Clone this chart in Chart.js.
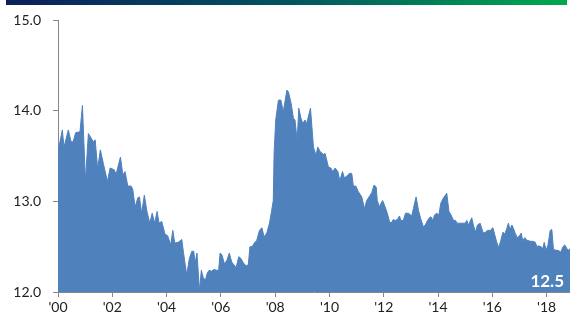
<!DOCTYPE html>
<html>
<head>
<meta charset="utf-8">
<script src="https://cdn.jsdelivr.net/npm/chart.js@4/dist/chart.umd.min.js"></script>
<style>
  body { margin: 0; background: #fff; }
  #wrap { width: 570px; height: 320px; position: relative; }
</style>
</head>
<body>
<div id="wrap"><canvas id="areaChart"></canvas></div>
<script>
// Dates as decimal years, values on the left axis
const dates = [
  2000.00, 2000.16, 2000.22, 2000.38, 2000.48, 2000.56, 2000.65, 2000.81, 2000.90, 2001.01,
  2001.12, 2001.24, 2001.30, 2001.37, 2001.46, 2001.56, 2001.67, 2001.82, 2001.92, 2002.07,
  2002.14, 2002.30, 2002.39, 2002.47, 2002.57, 2002.69, 2002.75, 2002.84, 2002.94, 2003.00,
  2003.08, 2003.18, 2003.27, 2003.38, 2003.47, 2003.56, 2003.65, 2003.72, 2003.82, 2003.94,
  2004.04, 2004.13, 2004.15, 2004.23, 2004.30, 2004.43, 2004.56, 2004.62, 2004.74, 2004.84,
  2004.93, 2005.00, 2005.05, 2005.12, 2005.21, 2005.28, 2005.35, 2005.43, 2005.50, 2005.57,
  2005.66, 2005.75, 2005.82, 2005.92, 2005.97, 2006.04, 2006.13, 2006.22, 2006.31, 2006.40,
  2006.48, 2006.56, 2006.66, 2006.74, 2006.83, 2006.93, 2007.01, 2007.07, 2007.15, 2007.23,
  2007.32, 2007.42, 2007.51, 2007.59, 2007.69, 2007.79, 2007.87, 2007.93, 2007.96, 2008.02,
  2008.12, 2008.21, 2008.30, 2008.43, 2008.49, 2008.59, 2008.67, 2008.73, 2008.81, 2008.87,
  2008.95, 2009.02, 2009.10, 2009.16, 2009.30, 2009.41, 2009.50, 2009.57, 2009.66, 2009.78,
  2009.84, 2009.96, 2010.05, 2010.12, 2010.21, 2010.31, 2010.38, 2010.48, 2010.55, 2010.64,
  2010.73, 2010.82, 2010.88, 2010.97, 2011.06, 2011.19, 2011.29, 2011.37, 2011.50, 2011.56,
  2011.64, 2011.72, 2011.76, 2011.84, 2011.90, 2011.96, 2012.05, 2012.13, 2012.21, 2012.27,
  2012.35, 2012.42, 2012.50, 2012.58, 2012.63, 2012.72, 2012.80, 2012.91, 2013.03, 2013.09,
  2013.19, 2013.28, 2013.36, 2013.46, 2013.53, 2013.61, 2013.68, 2013.74, 2013.81, 2013.87,
  2013.95, 2014.03, 2014.10, 2014.20, 2014.32, 2014.40, 2014.48, 2014.57, 2014.64, 2014.71,
  2014.81, 2014.91, 2015.00, 2015.06, 2015.12, 2015.18, 2015.24, 2015.30, 2015.38, 2015.45,
  2015.55, 2015.61, 2015.67, 2015.74, 2015.82, 2015.92, 2016.02, 2016.09, 2016.16, 2016.24,
  2016.31, 2016.39, 2016.46, 2016.53, 2016.59, 2016.65, 2016.72, 2016.78, 2016.84, 2016.92,
  2017.00, 2017.06, 2017.12, 2017.20, 2017.27, 2017.33, 2017.39, 2017.49, 2017.58, 2017.64,
  2017.71, 2017.79, 2017.86, 2017.91, 2017.98, 2018.05, 2018.13, 2018.19, 2018.25, 2018.35,
  2018.43, 2018.52, 2018.60, 2018.67, 2018.74, 2018.81, 2018.86
];
const values = [
  13.55, 13.79, 13.60, 13.79, 13.66, 13.66, 13.76, 13.77, 14.06, 13.23,
  13.75, 13.69, 13.66, 13.68, 13.36, 13.57, 13.42, 13.22, 13.37, 13.35,
  13.30, 13.49, 13.29, 13.33, 13.17, 13.17, 13.14, 12.94, 13.04, 13.05,
  12.87, 13.07, 12.90, 12.76, 12.87, 12.76, 12.89, 12.76, 12.78, 12.64,
  12.62, 12.54, 12.52, 12.68, 12.54, 12.55, 12.58, 12.44, 12.19, 12.37,
  12.45, 12.45, 12.32, 12.43, 12.01, 12.24, 12.16, 12.13, 12.21, 12.24,
  12.23, 12.25, 12.24, 12.24, 12.43, 12.41, 12.31, 12.35, 12.43, 12.33,
  12.30, 12.27, 12.39, 12.37, 12.32, 12.29, 12.30, 12.50, 12.50, 12.54,
  12.57, 12.68, 12.71, 12.61, 12.65, 12.76, 12.90, 13.01, 13.53, 13.90,
  14.12, 14.12, 13.99, 14.23, 14.21, 14.08, 13.92, 13.90, 13.67, 14.03,
  13.92, 13.86, 13.90, 13.86, 14.03, 13.60, 13.51, 13.60, 13.55, 13.52,
  13.53, 13.38, 13.37, 13.33, 13.37, 13.33, 13.23, 13.33, 13.26, 13.28,
  13.31, 13.31, 13.17, 13.17, 13.11, 13.05, 12.92, 13.01, 13.07, 13.10,
  13.18, 13.16, 13.01, 12.94, 12.98, 13.01, 12.94, 12.87, 12.78, 12.76,
  12.80, 12.79, 12.80, 12.84, 12.79, 12.79, 12.87, 12.87, 12.84, 12.92,
  13.05, 12.90, 12.81, 12.72, 12.74, 12.79, 12.82, 12.83, 12.79, 12.85,
  12.87, 12.85, 12.98, 13.04, 13.09, 12.89, 12.85, 12.79, 12.79, 12.76,
  12.76, 12.76, 12.76, 12.79, 12.74, 12.78, 12.82, 12.74, 12.66, 12.74,
  12.76, 12.70, 12.65, 12.66, 12.68, 12.68, 12.71, 12.63, 12.55, 12.49,
  12.57, 12.66, 12.64, 12.70, 12.76, 12.69, 12.74, 12.70, 12.65, 12.60,
  12.62, 12.65, 12.57, 12.60, 12.57, 12.57, 12.56, 12.56, 12.55, 12.50,
  12.51, 12.50, 12.48, 12.55, 12.46, 12.52, 12.68, 12.69, 12.47, 12.46,
  12.46, 12.44, 12.50, 12.52, 12.48, 12.46, 12.48
];
const yTicks = [12, 13, 14, 15];
const xTicks = [2000, 2002, 2004, 2006, 2008, 2010, 2012, 2014, 2016, 2018];

const axisColor = '#868686';
const fillColor = '#4f81bd';

// Thin gradient band across the top of the page
const topBand = {
  id: 'topBand',
  beforeDraw(chart) {
    const ctx = chart.ctx;
    const g = ctx.createLinearGradient(6, 0, 567, 0);
    g.addColorStop(0, '#0c1f5c');
    g.addColorStop(0.5, '#02535f');
    g.addColorStop(1, '#00a94f');
    ctx.save();
    ctx.fillStyle = g;
    ctx.fillRect(6, 0, 561, 5);
    ctx.restore();
  }
};

// Latest value printed inside the area, bottom right
const lastLabel = {
  id: 'lastLabel',
  afterDatasetsDraw(chart) {
    const ctx = chart.ctx;
    const area = chart.chartArea;
    const last = values[values.length - 1];
    ctx.save();
    ctx.font = 'bold 17px Lato';
    ctx.fillStyle = '#ffffff';
    ctx.textAlign = 'right';
    ctx.textBaseline = 'alphabetic';
    ctx.fillText(last.toFixed(1), area.right - 6, area.bottom - 5);
    ctx.restore();
  }
};

window.onload = function() {
  new Chart(document.getElementById('areaChart'), {
    type: 'line',
    data: {
      datasets: [{
        data: dates.map((d, i) => ({ x: d, y: values[i] })),
        backgroundColor: fillColor,
        borderColor: fillColor,
        borderWidth: 1,
        pointRadius: 0,
        tension: 0,
        fill: 'start'
      }]
    },
    options: {
      responsive: true,
      maintainAspectRatio: false,
      animation: false,
      layout: { padding: { top: 20, right: 0, bottom: 0, left: 0 } },
      plugins: {
        legend: { display: false },
        tooltip: { enabled: false }
      },
      scales: {
        x: {
          type: 'linear',
          min: 2000,
          max: dates[dates.length - 1],
          afterFit: s => { s.height = 28; },
          afterBuildTicks: s => { s.ticks = xTicks.map(v => ({ value: v })); },
          grid: { drawOnChartArea: false, drawTicks: true, tickLength: 5, color: axisColor },
          border: { display: true, color: axisColor },
          ticks: {
            padding: 2,
            maxRotation: 0,
            autoSkip: false,
            color: '#222',
            font: { family: 'Lato', size: 14 },
            callback: v => "'" + String(v).slice(2)
          }
        },
        y: {
          min: 12,
          max: 15,
          afterFit: s => { s.width = 58; },
          afterBuildTicks: s => { s.ticks = yTicks.map(v => ({ value: v })); },
          grid: { drawOnChartArea: false, drawTicks: true, tickLength: 5, color: axisColor },
          border: { display: true, color: axisColor },
          ticks: {
            padding: 12,
            color: '#222',
            font: { family: 'Lato', size: 14 },
            callback: v => v.toFixed(1)
          }
        }
      }
    },
    plugins: [topBand, lastLabel]
  });
};
</script>
</body>
</html>
